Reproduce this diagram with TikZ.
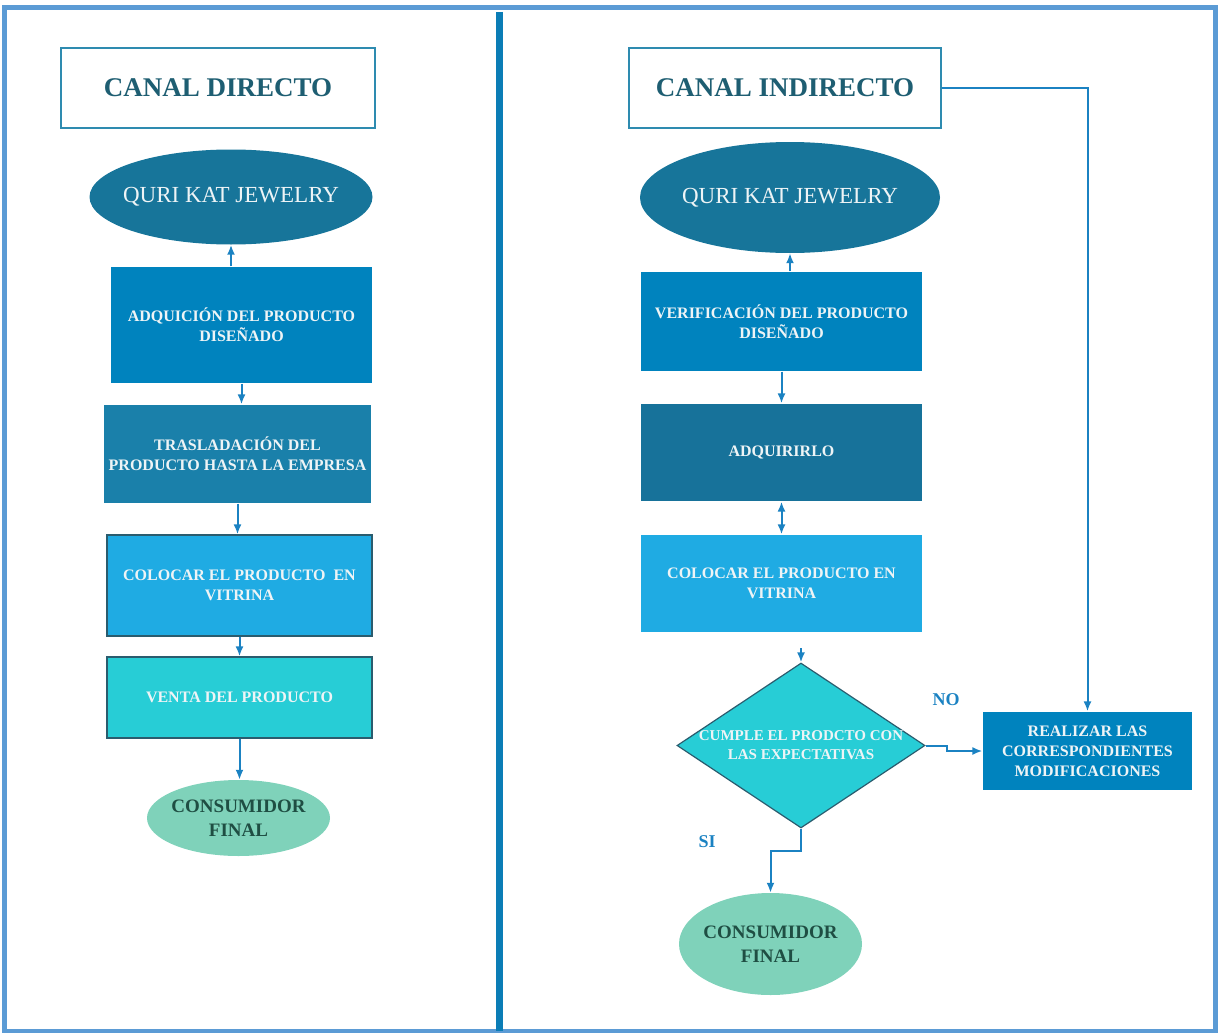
\documentclass[tikz,border=0pt]{standalone}
\usepackage{fontspec}
\setmainfont{Liberation Serif}
\usetikzlibrary{arrows,arrows.meta,shapes}
\definecolor{frameblue}{HTML}{5B9BD5}
\definecolor{divblue}{HTML}{0B7DB6}
\definecolor{titleline}{HTML}{2E8BB0}
\definecolor{titletext}{HTML}{1E5E72}
\definecolor{jewel}{HTML}{17759A}
\definecolor{boxa}{HTML}{0083BE}
\definecolor{boxb}{HTML}{1A80AA}
\definecolor{boxc}{HTML}{1FABE3}
\definecolor{boxd}{HTML}{27CDD6}
\definecolor{boxe}{HTML}{17729A}
\definecolor{boxedge}{HTML}{2A5C6E}
\definecolor{mint}{HTML}{7FD2BA}
\definecolor{mintext}{HTML}{1F4E43}
\definecolor{lighttext}{HTML}{EEF4F6}
\definecolor{arrowblue}{HTML}{1B82C2}
\tikzstyle{titlebox}=[rectangle,draw=titleline,line width=1.5pt,fill=white,text=titletext,minimum height=80pt,font=\fontsize{27}{30}\selectfont\bfseries]
\tikzstyle{brand}=[ellipse,fill=jewel,text=lighttext,inner sep=0pt,font=\fontsize{23}{26}\selectfont]
\tikzstyle{procbox}=[rectangle,text=lighttext,line width=1.2pt,align=center,inner sep=0pt,font=\fontsize{16}{20}\selectfont\bfseries]
\tikzstyle{decision}=[diamond,fill=boxd,draw=boxedge,line width=1.2pt,text=lighttext,align=center,inner sep=0pt,font=\fontsize{15}{19}\selectfont\bfseries]
\tikzstyle{client}=[ellipse,fill=mint,text=mintext,align=center,inner sep=0pt,font=\fontsize{19}{24}\selectfont\bfseries]
\tikzstyle{edge} = [draw,line width=2pt,-{Latex[length=10pt,width=8pt]},arrowblue]
\tikzstyle{answer} = [text=arrowblue,font=\fontsize{18}{20}\selectfont\bfseries]
\newcommand{\nowidth}[1]{\makebox[0pt]{#1}}

\begin{document}
\begin{tikzpicture}[x=1pt,y=-1pt]

    \useasboundingbox (0,0) rectangle (1221,1033);
    \draw[frameblue, line width=5pt] (4.5,8) rectangle (1215,1031);
    \draw[divblue, line width=7pt] (499,12) -- (499,1031);

    % titles and brand
    \foreach \x/\y/\w/\name/\txt in {218/88/314/titleL/{CANAL DIRECTO}, 785/88/312/titleR/{CANAL INDIRECTO}}
        \node[titlebox, minimum width=\w pt] (\name) at (\x,\y) {\txt};

    \foreach \x/\y/\w/\h/\name in {231/197/283/95/jewelL, 790/197.5/300/111/jewelR}
        \node[brand, minimum width=\w pt, minimum height=\h pt] (\name) at (\x,\y) {\nowidth{QURI KAT JEWELRY}};

    % canal directo
    \foreach \x/\y/\w/\h/\col/\line/\name/\txt in {
        241.5/325/261/116/boxa/none/adq/{ADQUICIÓN DEL PRODUCTO\\DISEÑADO},
        237.5/454/267/98/boxb/none/tras/{TRASLADACIÓN DEL\\PRODUCTO HASTA LA EMPRESA},
        239.5/585.5/265/101/boxc/boxedge/colL/{COLOCAR EL PRODUCTO \ EN\\VITRINA},
        239.5/697.5/265/81/boxd/boxedge/venta/{VENTA DEL PRODUCTO}}
        \node[procbox, fill=\col, draw=\line, minimum width=\w pt, minimum height=\h pt] (\name) at (\x,\y) {\txt};

    \node[client, minimum width=183pt, minimum height=76pt] (consL) at (238.5,818) {\nowidth{CONSUMIDOR}\\FINAL};

    % canal indirecto
    \foreach \x/\y/\w/\h/\col/\name/\txt in {
        781.5/321.5/281/99/boxa/verif/{VERIFICACIÓN DEL PRODUCTO\\DISEÑADO},
        781.5/452.5/281/97/boxe/adqr/{ADQUIRIRLO},
        781.5/583.5/281/97/boxc/colR/{COLOCAR EL PRODUCTO EN\\VITRINA},
        1087.5/751/209/78/boxa/realizar/{REALIZAR LAS\\CORRESPONDIENTES\\MODIFICACIONES}}
        \node[procbox, fill=\col, minimum width=\w pt, minimum height=\h pt] (\name) at (\x,\y) {\txt};

    \node[decision, minimum width=248pt, minimum height=165pt] (cumple) at (801,745.5)
        {\nowidth{CUMPLE EL PRODCTO CON}\\\nowidth{LAS EXPECTATIVAS}};
    \node[client, minimum width=183pt, minimum height=102pt] (consR) at (770.5,944) {\nowidth{CONSUMIDOR}\\FINAL};

    \node[answer] (no) at (946,700) {NO};
    \node[answer] (si) at (707,842) {SI};
    \coordinate (incheck) at (801,648);

    % arrows
    \foreach \source/ \dest in {adq/jewelL, verif/jewelR}
        \path[edge] (\source.north -| \dest.south) -- (\dest.south);

    \foreach \source/ \dest in {adq/tras, tras/colL, colL/venta, venta/consL, verif/adqr}
        \path[edge] (\source.south) -- (\source.south |- \dest.north);

    \path[edge, {Latex[length=10pt,width=8pt]}-{Latex[length=10pt,width=8pt]}] (adqr.south) -- (colR.north);
    \path[edge] (incheck) -- (cumple.north);
    \path[edge] (cumple.east) -- ++(21,0) |- (realizar.west);
    \path[edge] (titleR.east) -| (realizar.north);
    \path[edge] (cumple.south) -- ++(0,22) -| (consR.north);

\end{tikzpicture}
\end{document}
